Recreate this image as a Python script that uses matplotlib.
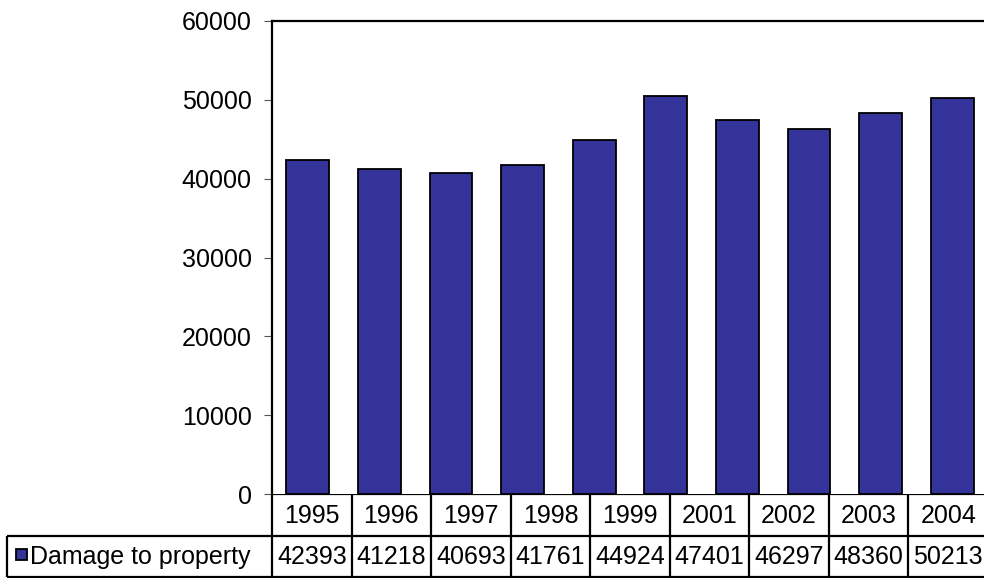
import matplotlib
matplotlib.use("Agg")
import matplotlib.pyplot as plt
import numpy as np

plt.rcParams['font.family'] = ['Liberation Sans', 'DejaVu Sans']

# bars drawn in the plot (10 of them), the table only lists 9 years
bar_values = [42393, 41218, 40693, 41761, 44924, 50450, 47401, 46297, 48360, 50213]
table_years = ['1995', '1996', '1997', '1998', '1999', '2001', '2002', '2003', '2004']
table_values = [42393, 41218, 40693, 41761, 44924, 47401, 46297, 48360, 50213]
series_name = 'Damage to property'
y_ticks = [0, 10000, 20000, 30000, 40000, 50000, 60000]

bar_color = '#333399'
fs = 18
W, H = 984, 578

fig = plt.figure(figsize=(W / 100, H / 100), dpi=100)

# plot area in pixels
px_left, px_right, px_top, px_bottom = 272, 988, 21, 494
ax = fig.add_axes([px_left / W, (H - px_bottom) / H,
                   (px_right - px_left) / W, (px_bottom - px_top) / H])

x = np.arange(len(bar_values))
ax.bar(x, bar_values, width=0.6, color=bar_color, edgecolor='black', linewidth=1.3)
ax.set_xlim(-0.5, len(bar_values) - 0.5)
ax.set_ylim(0, 60000)
ax.set_yticks(y_ticks)
ax.set_yticklabels([str(v) for v in y_ticks], fontsize=fs)
ax.set_xticks([])
ax.tick_params(axis='y', length=5.5, width=0.8, color='#555555', pad=9)
for s in ['bottom', 'right']:
    ax.spines[s].set_visible(False)
for s in ['left', 'top']:
    ax.spines[s].set_linewidth(1.6)

# data table below the plot, drawn in pixel coordinates
tb = fig.add_axes([0, 0, 1, 1], zorder=-1)
tb.set_xlim(0, W)
tb.set_ylim(H, 0)
tb.axis('off')

row1_top, row1_bot, row2_bot = px_bottom, 536, 576.5
leg_left = 7
ncol = len(table_years)
col_w = (px_right - px_left) / ncol
edges = [px_left + i * col_w for i in range(ncol + 1)]
lw = 1.6

tb.hlines(row1_top, px_left, px_right, color='black', lw=lw)
tb.hlines(row1_bot, leg_left, px_right, color='black', lw=lw)
tb.hlines(row2_bot, leg_left, px_right, color='black', lw=lw)
tb.vlines(leg_left, row1_bot, row2_bot, color='black', lw=lw)
for e in edges:
    tb.vlines(e, row1_top, row2_bot, color='black', lw=lw)

for i in range(ncol):
    cx = (edges[i] + edges[i + 1]) / 2
    tb.text(cx, (row1_top + row1_bot) / 2 + 1, table_years[i], fontsize=fs,
            ha='center', va='center')
    tb.text(cx, (row1_bot + row2_bot) / 2 + 1, str(table_values[i]), fontsize=fs,
            ha='center', va='center')

# legend key + series name
key = plt.Rectangle((16, 549), 11, 11, facecolor=bar_color, edgecolor='black', lw=1.3)
tb.add_patch(key)
tb.text(30, (row1_bot + row2_bot) / 2 + 1, series_name, fontsize=fs,
        ha='left', va='center')

fig.savefig('out.png', dpi=100)
